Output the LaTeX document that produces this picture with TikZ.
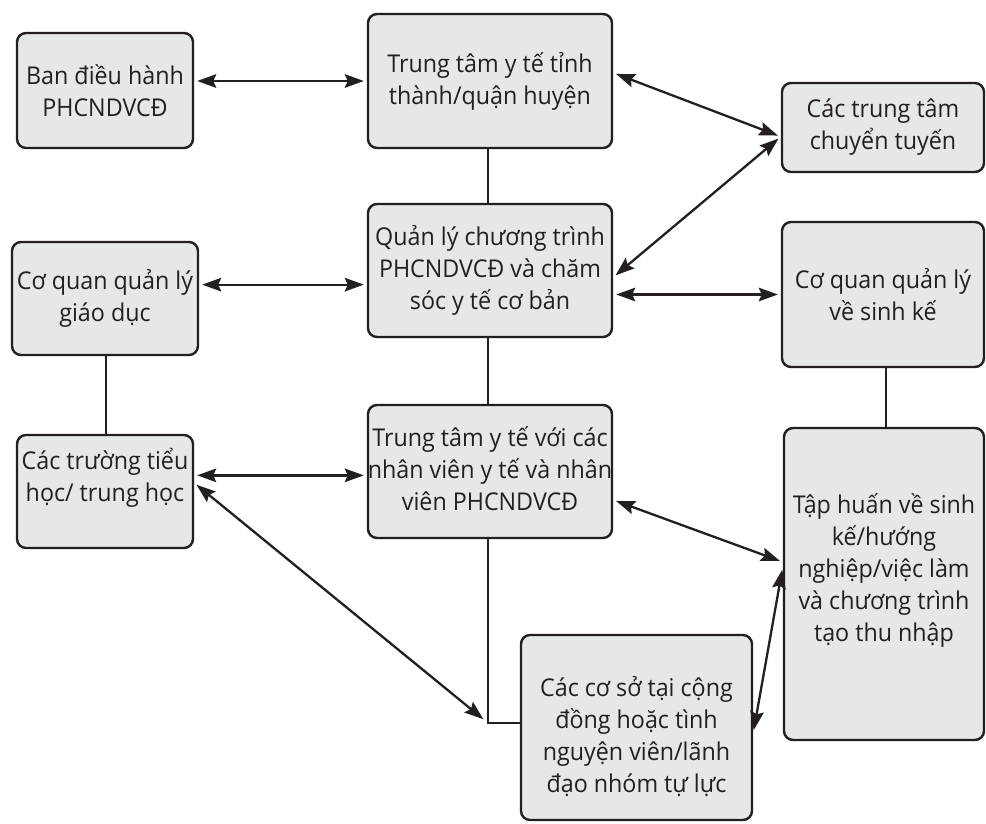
\documentclass[tikz,border=0pt]{standalone}
\usepackage{fontspec}
\setmainfont{Open Sans}[FakeStretch=0.95]
\usetikzlibrary{arrows.meta,calc}
\definecolor{ink}{HTML}{231F20}
\definecolor{boxfill}{HTML}{E6E7E8}
\begin{document}
\begin{tikzpicture}[x=1pt,y=-1pt,
  box/.style={draw=ink, fill=boxfill, line width=2.4pt, rounded corners=9pt,
    inner sep=0pt, align=center, text=ink, font=\fontsize{24.5}{32}\selectfont},
  lbl/.style={inner sep=0pt, align=center, text=ink, font=\fontsize{24.5}{32}\selectfont},
  link/.style={draw=ink, line width=2.3pt},
  tip/.tip={Stealth[length=19pt,width=13.5pt,inset=3pt]},
  biarrow/.style={link, tip-tip, shorten <=3pt, shorten >=3pt}
]
\useasboundingbox (0,0) rectangle (986,823);
\fill[white] (0,0) rectangle (986,823);

% boxes
\node[box, minimum width=176pt, minimum height=115pt] (a) at (105,90.5) {Ban điều hành\\PHCNDVCĐ};
\node[box, minimum width=244pt, minimum height=134pt] (b) at (490,81) {Trung tâm y tế tỉnh\\thành/quận huyện};
\node[box, minimum width=202pt, minimum height=89pt] (c) at (883,127.5) {Các trung tâm\\chuyển tuyến};
\node[box, minimum width=244pt, minimum height=133pt] (d) at (490,270.5) {Quản lý chương trình\\PHCNDVCĐ và chăm\\sóc y tế cơ bản};
\node[box, minimum width=186pt, minimum height=113pt] (e) at (105,298.5) {Cơ quan quản lý\\giáo dục};
\node[box, minimum width=202pt, minimum height=145pt] (f) at (883,294.5) {Cơ quan quản lý\\về sinh kế};
\node[box, minimum width=176pt, minimum height=113pt] (g) at (105,491.5) {};
\node[box, minimum width=244pt, minimum height=133pt] (h) at (490,471.5) {};
\node[box, minimum width=200pt, minimum height=312pt] (i) at (884,584) {};
\node[box, minimum width=231pt, minimum height=185pt] (j) at (636.5,727.5) {};

% texts placed off the box centres
\node[lbl] (g-t) at (105,478) {Các trường tiểu\\học/ trung học};
\node[lbl] (h-t) at (490,469) {Trung tâm y tế với các\\nhân viên y tế và nhân\\viên PHCNDVCĐ};
\node[lbl] (i-t) at (884,570) {Tập huấn về sinh\\kế/hướng\\nghiệp/việc làm\\và chương trình\\tạo thu nhập};
\node[lbl] (j-t) at (636.5,737) {Các cơ sở tại cộng\\đồng hoặc tình\\nguyện viên/lãnh\\đạo nhóm tự lực};

% attachment points on the box sides
\coordinate (b-r) at ($(b.north east)!0.44!(b.south east)$);
\coordinate (c-l) at ($(c.north west)!0.6!(c.south west)$);
\coordinate (d-r) at ($(d.north east)!0.55!(d.south east)$);
\coordinate (e-r) at ($(e.north east)!0.38!(e.south east)$);
\coordinate (g-r1) at ($(g.north east)!0.36!(g.south east)$);
\coordinate (g-r2) at ($(g.north east)!0.425!(g.south east)$);
\coordinate (h-r) at ($(h.north east)!0.71!(h.south east)$);
\coordinate (i-l1) at ($(i.north west)!0.43!(i.south west)$);
\coordinate (i-l2) at ($(i.north west)!0.445!(i.south west)$);
\coordinate (j-r) at ($(j.north east)!0.53!(j.south east)$);
\coordinate (j-l) at ($(j.north west)!0.476!(j.south west)$);
\coordinate (elbow) at ([xshift=-2pt]j-l -| h.south);

% plain links
\draw[link] ([xshift=-2pt]b.south) -- ([xshift=-2pt]d.north);
\draw[link] ([xshift=-2pt]d.south) -- ([xshift=-2pt]h.north);
\draw[link] ([xshift=1pt]e.south) -- ([xshift=1pt]g.north);
\draw[link] ([xshift=3pt]f.south) -- ([xshift=3pt]f.south |- i.north);
\draw[link] ([xshift=-2pt]h.south) -- (elbow) -- (j-l);

% two-way arrows
\draw[biarrow] (a.east |- b.west) -- (b.west);
\draw[biarrow] (b-r) -- (c-l);
\draw[biarrow] (d-r) -- (c-l);
\draw[biarrow] (d.east |- f.west) -- (f.west);
\draw[biarrow] (e-r) -- (e-r -| d.west);
\draw[biarrow] (g-r1) -- (g-r1 -| h.west);
\draw[biarrow, shorten >=6pt] (g-r2) -- (elbow);
\draw[biarrow] (h-r) -- (i-l1);
\draw[biarrow] (i-l2) -- (j-r);
\end{tikzpicture}
\end{document}
